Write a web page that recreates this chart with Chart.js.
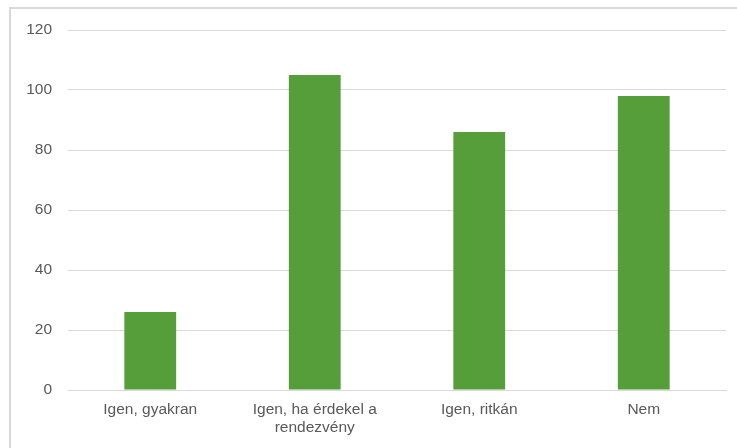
<!DOCTYPE html>
<html><head><meta charset="utf-8">
<script src="https://cdn.jsdelivr.net/npm/chart.js@4/dist/chart.umd.min.js"></script>
<style>
html,body{margin:0;padding:0;background:#fff;}
#wrap{position:absolute;left:0;top:0;width:737px;height:448px;}
#frame{position:absolute;left:9px;top:7px;width:740px;height:460px;border:2px solid #d9d9d9;box-sizing:border-box;}
canvas{position:absolute;left:0;top:0;}
</style></head>
<body>
<div id="wrap"><div id="frame"></div><canvas id="c" width="737" height="448"></canvas></div>
<script>
const categories = [["Igen, gyakran"], ["Igen, ha érdekel a", "rendezvény"], ["Igen, ritkán"], ["Nem"]];
const values = [26, 105, 86, 98];
const yTicks = [0, 20, 40, 60, 80, 100, 120];

new Chart(document.getElementById('c'), {
  type: 'bar',
  data: {
    labels: categories,
    datasets: [{ data: values, backgroundColor: '#559E3A', borderWidth: 0,
      categoryPercentage: 1.0, barPercentage: 0.315 }]
  },
  options: {
    responsive: false, animation: false,
    layout: { padding: { left: 10, right: 11, top: 30, bottom: 0 } },
    plugins: { legend: { display: false }, tooltip: { enabled: false } },
    scales: {
      x: {
        grid: { display: false, drawTicks: false },
        border: { display: true, color: '#d9d9d9', width: 1 },
        ticks: { color: '#595959', font: { family: 'Liberation Sans', size: 15.5, lineHeight: 1.15 }, padding: 11, maxRotation: 0, autoSkip: false },
        afterFit: (s) => { s.height = 58; }
      },
      y: {
        min: 0, max: 120,
        afterBuildTicks: (s) => { s.ticks = yTicks.map(v => ({ value: v })); },
        grid: { color: '#d9d9d9', drawTicks: false },
        border: { display: false },
        ticks: { color: '#595959', font: { family: 'Liberation Sans', size: 15.5 }, padding: 16 },
        afterFit: (s) => { s.width = 58; }
      }
    }
  }
});
</script>
</body></html>
